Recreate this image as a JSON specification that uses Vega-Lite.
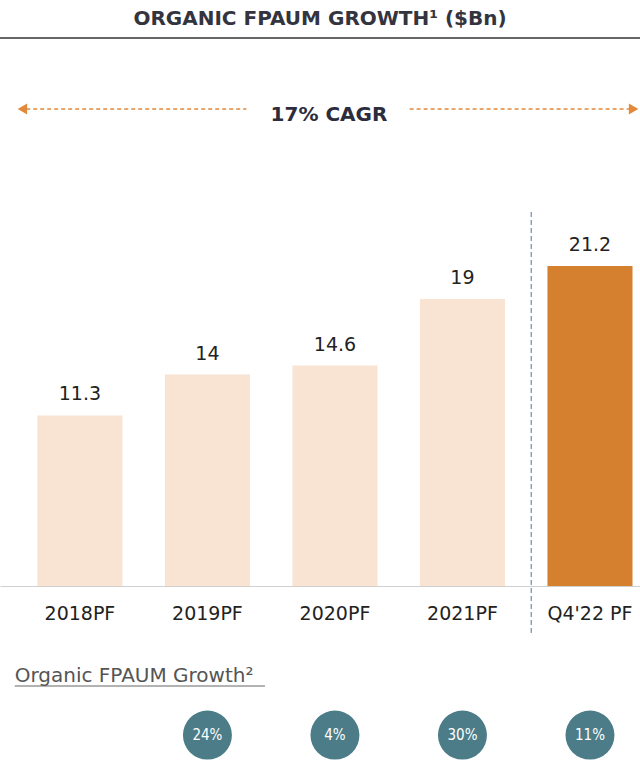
{
  "$schema": "https://vega.github.io/schema/vega-lite/v6.json",
  "width": 640,
  "height": 722,
  "autosize": {"type": "none"},
  "padding": {"top": 38, "left": 0, "right": 0, "bottom": 0},
  "background": "white",
  "title": {
    "text": "ORGANIC FPAUM GROWTH¹ ($Bn)",
    "anchor": "middle",
    "frame": "group",
    "font": "DejaVu Sans",
    "fontSize": 20,
    "fontWeight": "bold",
    "color": "#34343f",
    "offset": 8
  },
  "config": {"view": {"stroke": null}, "font": "DejaVu Sans"},
  "datasets": {
    "fpaum": [
      {"period": "2018PF", "fpaum": 11.3, "kind": "historical", "growth": null},
      {"period": "2019PF", "fpaum": 14, "kind": "historical", "growth": 0.24},
      {"period": "2020PF", "fpaum": 14.6, "kind": "historical", "growth": 0.04},
      {"period": "2021PF", "fpaum": 19, "kind": "historical", "growth": 0.30},
      {"period": "Q4'22 PF", "fpaum": 21.2, "kind": "current", "growth": 0.11}
    ]
  },
  "layer": [
    {
      "data": {"name": "fpaum"},
      "encoding": {
        "x": {
          "field": "period",
          "type": "nominal",
          "sort": null,
          "scale": {"type": "band", "paddingInner": 0.333, "paddingOuter": 0.176, "align": 0.833},
          "axis": {
            "orient": "bottom",
            "offset": -174,
            "title": null,
            "ticks": false,
            "domainColor": "#d0d0d0",
            "domainWidth": 1,
            "labelFont": "DejaVu Sans",
            "labelFontSize": 19,
            "labelColor": "#222222",
            "labelPadding": 18,
            "labelAngle": 0
          }
        }
      },
      "layer": [
        {
          "mark": {"type": "bar"},
          "encoding": {
            "y": {"field": "fpaum", "type": "quantitative", "scale": {"domain": [-11.52, 36.29], "nice": false, "zero": false}, "axis": null},
            "color": {"field": "kind", "type": "nominal", "scale": {"domain": ["historical", "current"], "range": ["#f9e4d4", "#d4802f"]}, "legend": null}
          }
        },
        {
          "mark": {"type": "text", "dy": -15, "baseline": "alphabetic", "fontSize": 19, "color": "#222222"},
          "encoding": {
            "y": {"field": "fpaum", "type": "quantitative", "scale": {"domain": [-11.52, 36.29], "nice": false, "zero": false}, "axis": null},
            "text": {"field": "fpaum", "type": "quantitative"}
          }
        },
        {
          "transform": [{"filter": "datum.growth != null"}],
          "mark": {"type": "point", "filled": true, "shape": "circle", "size": 2400, "color": "#4b7c88", "opacity": 1},
          "encoding": {
            "y": {"datum": -9.87, "type": "quantitative", "scale": {"domain": [-11.52, 36.29], "nice": false, "zero": false}, "axis": null}
          }
        },
        {
          "transform": [{"filter": "datum.growth != null"}],
          "mark": {"type": "text", "color": "white", "fontSize": 15, "font": "DejaVu Sans Condensed"},
          "encoding": {
            "y": {"datum": -9.87, "type": "quantitative", "scale": {"domain": [-11.52, 36.29], "nice": false, "zero": false}, "axis": null},
            "text": {"field": "growth", "type": "quantitative", "format": ".0%"}
          }
        }
      ]
    },
    {
      "data": {"values": [{}]},
      "layer": [
        {
          "mark": {"type": "rule", "color": "#666666", "strokeWidth": 2},
          "encoding": {
            "x": {"datum": 0, "type": "quantitative", "scale": {"domain": [0, 1], "nice": false, "zero": false}, "axis": null},
            "x2": {"datum": 1},
            "y": {"datum": 36.29, "type": "quantitative", "scale": {"domain": [-11.52, 36.29], "nice": false, "zero": false}, "axis": null}
          }
        },
        {
          "mark": {"type": "rule", "color": "#e3893a", "strokeWidth": 1.5, "strokeDash": [4, 3]},
          "encoding": {
            "x": {"datum": 0.03, "type": "quantitative", "scale": {"domain": [0, 1], "nice": false, "zero": false}, "axis": null},
            "x2": {"datum": 0.385},
            "y": {"datum": 31.59, "type": "quantitative", "scale": {"domain": [-11.52, 36.29], "nice": false, "zero": false}, "axis": null}
          }
        },
        {
          "mark": {"type": "rule", "color": "#e3893a", "strokeWidth": 1.5, "strokeDash": [4, 3]},
          "encoding": {
            "x": {"datum": 0.64, "type": "quantitative", "scale": {"domain": [0, 1], "nice": false, "zero": false}, "axis": null},
            "x2": {"datum": 0.985},
            "y": {"datum": 31.59, "type": "quantitative", "scale": {"domain": [-11.52, 36.29], "nice": false, "zero": false}, "axis": null}
          }
        },
        {
          "mark": {"type": "point", "shape": "triangle-left", "filled": true, "size": 120, "color": "#e3893a", "opacity": 1},
          "encoding": {
            "x": {"datum": 0.035, "type": "quantitative", "scale": {"domain": [0, 1], "nice": false, "zero": false}, "axis": null},
            "y": {"datum": 31.59, "type": "quantitative", "scale": {"domain": [-11.52, 36.29], "nice": false, "zero": false}, "axis": null}
          }
        },
        {
          "mark": {"type": "point", "shape": "triangle-right", "filled": true, "size": 120, "color": "#e3893a", "opacity": 1},
          "encoding": {
            "x": {"datum": 0.99, "type": "quantitative", "scale": {"domain": [0, 1], "nice": false, "zero": false}, "axis": null},
            "y": {"datum": 31.59, "type": "quantitative", "scale": {"domain": [-11.52, 36.29], "nice": false, "zero": false}, "axis": null}
          }
        },
        {
          "mark": {"type": "text", "text": "17% CAGR", "fontSize": 20, "fontWeight": "bold", "color": "#2c2c3c", "baseline": "middle"},
          "encoding": {
            "x": {"datum": 0.514, "type": "quantitative", "scale": {"domain": [0, 1], "nice": false, "zero": false}, "axis": null},
            "y": {"datum": 31.2, "type": "quantitative", "scale": {"domain": [-11.52, 36.29], "nice": false, "zero": false}, "axis": null}
          }
        },
        {
          "mark": {"type": "rule", "color": "#557399", "strokeWidth": 1, "strokeDash": [5, 3]},
          "encoding": {
            "x": {"datum": 0.83, "type": "quantitative", "scale": {"domain": [0, 1], "nice": false, "zero": false}, "axis": null},
            "y": {"datum": 24.77, "type": "quantitative", "scale": {"domain": [-11.52, 36.29], "nice": false, "zero": false}, "axis": null},
            "y2": {"datum": -3.11}
          }
        },
        {
          "mark": {"type": "text", "text": "Organic FPAUM Growth²", "fontSize": 20, "color": "#555555", "align": "left", "baseline": "alphabetic"},
          "encoding": {
            "x": {"datum": 0.023, "type": "quantitative", "scale": {"domain": [0, 1], "nice": false, "zero": false}, "axis": null},
            "y": {"datum": -6.36, "type": "quantitative", "scale": {"domain": [-11.52, 36.29], "nice": false, "zero": false}, "axis": null}
          }
        },
        {
          "mark": {"type": "rule", "color": "#666666", "strokeWidth": 1},
          "encoding": {
            "x": {"datum": 0.023, "type": "quantitative", "scale": {"domain": [0, 1], "nice": false, "zero": false}, "axis": null},
            "x2": {"datum": 0.414},
            "y": {"datum": -6.62, "type": "quantitative", "scale": {"domain": [-11.52, 36.29], "nice": false, "zero": false}, "axis": null}
          }
        }
      ]
    }
  ],
  "resolve": {"scale": {"x": "independent"}}
}
